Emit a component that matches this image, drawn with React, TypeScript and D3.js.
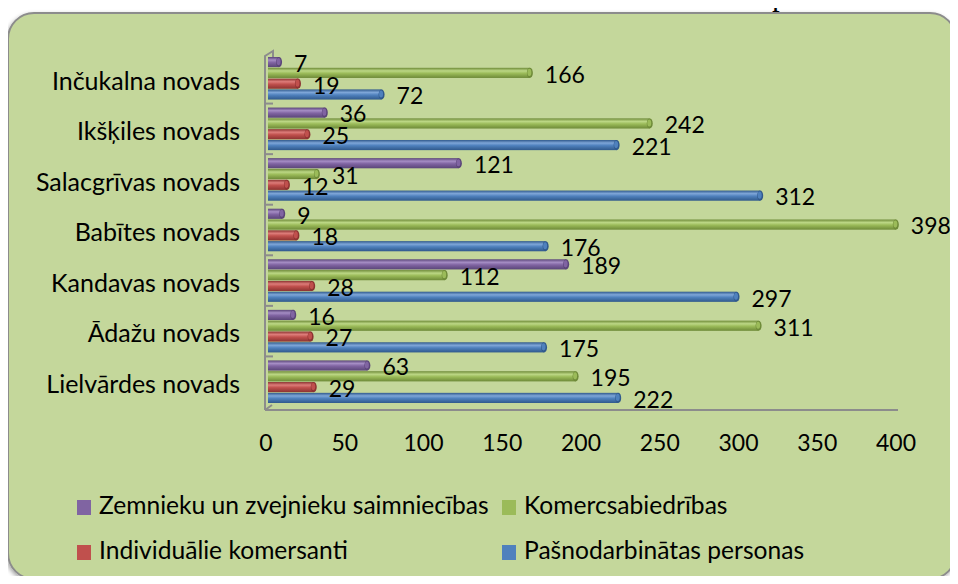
import React from "react"
import * as d3 from "d3"

const categories = [
  "Inčukalna novads",
  "Ikšķiles novads",
  "Salacgrīvas novads",
  "Babītes novads",
  "Kandavas novads",
  "Ādažu novads",
  "Lielvārdes novads",
]

const seriesNames = [
  "Zemnieku un zvejnieku saimniecības",
  "Komercsabiedrības",
  "Individuālie komersanti",
  "Pašnodarbinātas personas",
]

const zemnieku = [7, 36, 121, 9, 189, 16, 63]
const komerc = [166, 242, 31, 398, 112, 311, 195]
const individ = [19, 25, 12, 18, 28, 27, 29]
const pasnod = [72, 221, 312, 176, 297, 175, 222]

const xTicks = [0, 50, 100, 150, 200, 250, 300, 350, 400]

const seriesValues = [zemnieku, komerc, individ, pasnod]

// base, light, dark per series
const palette = [
  { base: "#8064a2", light: "#a58dc4", dark: "#5a4578" },
  { base: "#9bbb59", light: "#bcd785", dark: "#6e8a38" },
  { base: "#c0504d", light: "#dd7c79", dark: "#8c3331" },
  { base: "#4f81bd", light: "#7ea6d8", dark: "#30598c" },
]

const FONT = "Lato, 'Open Sans', sans-serif"

export default function App() {
  const W = 958
  const H = 584

  const x = d3.scaleLinear().domain([0, 400]).range([268, 899])
  const xTick = x.copy().range([266, 896])

  const y = d3.scaleBand<string>().domain(categories).range([53, 407]).paddingInner(0).paddingOuter(0)
  const inner = d3
    .scaleBand<number>()
    .domain(d3.range(seriesNames.length))
    .range([4, y.bandwidth() - 4])
    .paddingInner(0.06)

  const barH = inner.bandwidth()

  return (
    <div style={{ margin: -8 }}>
      <svg width={W} height={H} style={{ display: "block", background: "#fff" }}>
        <defs>
          {palette.map((p, i) => (
            <linearGradient key={i} id={`cyl${i}`} x1="0" y1="0" x2="0" y2="1">
              <stop offset="0%" stopColor={p.dark} />
              <stop offset="30%" stopColor={p.light} />
              <stop offset="55%" stopColor={p.base} />
              <stop offset="100%" stopColor={p.dark} />
            </linearGradient>
          ))}
          <filter id="shadow" x="-5%" y="-5%" width="110%" height="110%">
            <feDropShadow dx="-1" dy="2" stdDeviation="2" floodColor="#000" floodOpacity="0.35" />
          </filter>
        </defs>

        <text
          x={463}
          y={5}
          fontFamily="'Liberation Serif', 'Times New Roman', serif"
          fontSize={31}
          fill="#000"
        >
          statistikas vienību skaits pa komercdarbības formām
        </text>

        <rect
          x={8}
          y={13}
          width={948}
          height={566}
          rx={26}
          fill="#c4d79b"
          stroke="#8c8c8c"
          strokeWidth={2}
          filter="url(#shadow)"
        />

        {/* wall and floor */}
        <path d={`M265,410 L265,56 L273,51 L273,57`} fill="none" stroke="#8c8c8c" strokeWidth={2} />
        <path d={`M265,410 L898,410 M265,410 L272,405`} fill="none" stroke="#8c8c8c" strokeWidth={2} />
        {categories.slice(1).map((c) => (
          <line key={c} x1={265} x2={273} y1={y(c)!} y2={y(c)!} stroke="#8c8c8c" strokeWidth={2} />
        ))}

        {/* bars */}
        {categories.map((c, ci) =>
          seriesValues.map((vals, si) => {
            const v = vals[ci]
            const y0 = y(c)! + inner(si)!
            const x0 = x(0)
            const x1 = x(v)
            const p = palette[si]
            return (
              <g key={`${ci}-${si}`}>
                <rect x={x0} y={y0} width={Math.max(0, x1 - x0)} height={barH} fill={`url(#cyl${si})`} />
                <ellipse cx={x1} cy={y0 + barH / 2} rx={3} ry={barH / 2} fill={p.dark} />
                <ellipse cx={x1 - 0.5} cy={y0 + barH / 2 - 0.5} rx={2} ry={barH / 2 - 1.5} fill={p.base} />
              </g>
            )
          })
        )}

        {/* value labels */}
        {categories.map((c, ci) =>
          seriesValues.map((vals, si) => {
            const v = vals[ci]
            const cy = y(c)! + inner(si)! + barH / 2
            return (
              <text
                key={`l${ci}-${si}`}
                x={x(v) + 15}
                y={cy + 4}
                dominantBaseline="middle"
                fontFamily={FONT}
                fontSize={23}
                fill="#000"
              >
                {v}
              </text>
            )
          })
        )}

        {/* category labels */}
        {categories.map((c) => (
          <text
            key={c}
            x={240}
            y={y(c)! + y.bandwidth() / 2 + 5}
            textAnchor="end"
            dominantBaseline="middle"
            fontFamily={FONT}
            fontSize={25}
            fill="#000"
          >
            {c}
          </text>
        ))}

        {/* x tick labels */}
        {xTicks.map((t) => (
          <text
            key={t}
            x={xTick(t)}
            y={445}
            textAnchor="middle"
            dominantBaseline="middle"
            fontFamily={FONT}
            fontSize={23}
            fill="#000"
          >
            {t}
          </text>
        ))}

        {/* legend */}
        {seriesNames.map((name, i) => {
          const col = i % 2
          const row = Math.floor(i / 2)
          const lx = col === 0 ? 77 : 502
          const ly = row === 0 ? 507 : 552
          return (
            <g key={name}>
              <rect x={lx} y={ly - 7} width={14} height={15} fill={palette[i].base} />
              <text
                x={lx + 22}
                y={ly + 1}
                dominantBaseline="middle"
                fontFamily={FONT}
                fontSize={24.6}
                fill="#000"
              >
                {name}
              </text>
            </g>
          )
        })}
      </svg>
    </div>
  )
}
